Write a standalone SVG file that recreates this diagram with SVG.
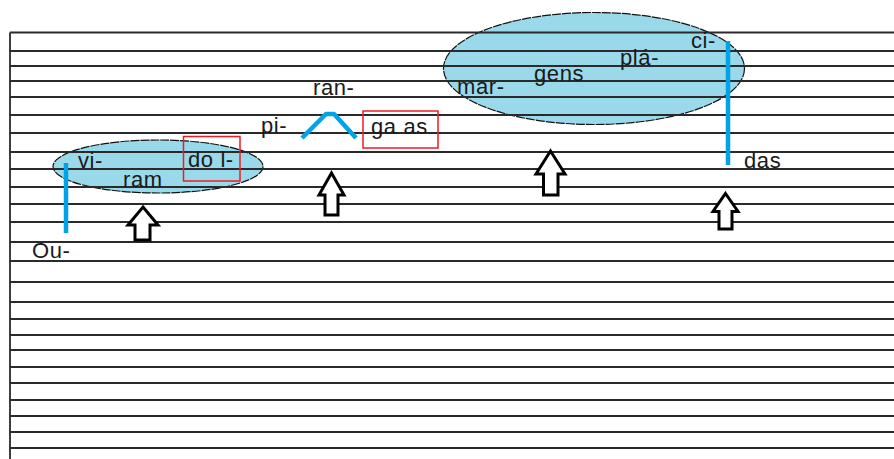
<svg xmlns="http://www.w3.org/2000/svg" width="894" height="459" viewBox="0 0 894 459">
<style>
.bg{fill:#fff}
.blob{fill:#99d9ea;stroke:#111;stroke-width:1.2;stroke-dasharray:9 1}
.rule{stroke:#2a2a2a;stroke-width:1.8;fill:none}
.t{font-family:"Liberation Sans",Arial,sans-serif;font-size:22px;letter-spacing:0.6px;fill:#1a1a1a}
.box{fill:none;stroke:#ed1c24;stroke-width:1.5}
.blue{stroke:#00a2e8;stroke-width:4.5;fill:none;stroke-linecap:butt;stroke-linejoin:round}
.arrow{fill:#fff;stroke:#000;stroke-width:3;stroke-linejoin:miter}
</style>
<rect class="bg" x="0" y="0" width="894" height="459"/>
<g id="ellipse-left"><ellipse class="blob" cx="158" cy="166.5" rx="105" ry="26.5"/></g>
<g id="ellipse-right"><ellipse class="blob" cx="594" cy="68.5" rx="150.5" ry="56"/></g>
<g id="staff">
<path class="rule" d="M10,32.5V459 M10,32.5H894 M10,51H894 M10,66H894 M10,81H894 M10,97H894 M10,115H894 M10,133H894 M10,152H894 M10,169H894 M10,187H894 M10,204H894 M10,222H894 M10,242H894 M10,261H894 M10,282H894 M10,302H894 M10,319H894 M10,335H894 M10,350H894 M10,367H894 M10,383H894 M10,400H894 M10,416H894 M10,432H894 M10,448H894"/>
</g>
<g id="connectors">
<path class="blue" d="M66,163V233"/>
<path class="blue" d="M302,138L326,114L334,114L356,138"/>
<path class="blue" d="M728,41V165"/>
</g>
<g id="box-do"><rect class="box" x="183.5" y="136.5" width="56.5" height="44.5"/></g>
<g id="box-gaas"><rect class="box" x="363" y="111" width="75" height="37"/></g>
<g id="labels">
<text class="t" x="78" y="168">vi-</text>
<text class="t" x="123" y="187">ram</text>
<text class="t" x="188" y="167">do l-</text>
<text class="t" x="32" y="258">Ou-</text>
<text class="t" x="261" y="133">pi-</text>
<text class="t" x="313" y="95">ran-</text>
<text class="t" x="371" y="134">ga as</text>
<text class="t" x="457" y="94">mar-</text>
<text class="t" x="534" y="81">gens</text>
<text class="t" x="620" y="65">plá-</text>
<text class="t" x="691" y="48">ci-</text>
<text class="t" x="744" y="168">das</text>
</g>
<g id="arrow-1"><path class="arrow" d="M143,207L158,225L150,225L150,240L135,240L135,225L128,225Z"/></g>
<g id="arrow-2"><path class="arrow" d="M331.5,173L344,195L338,195L338,215L325,215L325,195L319,195Z"/></g>
<g id="arrow-3"><path class="arrow" d="M550.5,151L565,174L558,174L558,195L543.5,195L543.5,174L536,174Z"/></g>
<g id="arrow-4"><path class="arrow" d="M725.5,193.5L738,211.5L732,211.5L732,229L719,229L719,211.5L713,211.5Z"/></g>
</svg>
